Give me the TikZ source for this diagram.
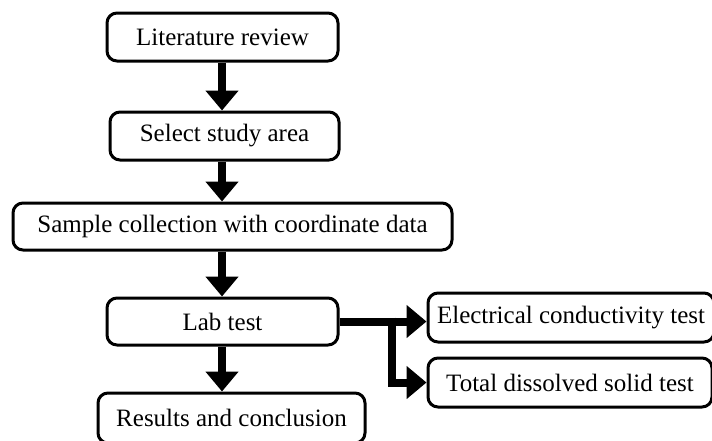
\documentclass[tikz,border=0pt]{standalone}
\usepackage{fontspec}
\setmainfont{Liberation Serif}
\usetikzlibrary{arrows.meta, positioning, calc}

\tikzset{
  stage/.style={draw, line width=3pt, rounded corners=10pt, inner sep=0pt,
    minimum height=48pt, font=\fontsize{25}{30}\selectfont},
  flow/.style={line width=8pt, -{Triangle[width=32pt,length=20pt]}}
}

\begin{document}
\begin{tikzpicture}[x=1pt, y=-1pt]
\useasboundingbox (0,0) rectangle (712,440);

% Main steps
\node[stage, minimum width=231pt] (lit) at (222.5,37) {Literature review};
\node[stage, minimum width=229pt] (sel) at (224.5,136) {Select study area};
\node[stage, minimum width=439pt, minimum height=47pt] (samp) at (232.5,226.5) {Sample collection with coordinate data};
\node[stage, minimum width=231pt, minimum height=47pt] (lab) at (222.5,321.5) {Lab test};
\node[stage, minimum width=267pt, minimum height=50pt] (res) at (231.5,418) {Results and conclusion};

% Lab tests
\node[stage, minimum width=286pt, minimum height=49pt] (elec) at (571,317.5) {Electrical conductivity test};
\node[stage, minimum width=284pt, minimum height=49pt] (tds) at (570,382.5) {Total dissolved solid test};

% Connections
\draw[flow] (lit.south -| 222,0) -- (sel.north -| 222,0);
\draw[flow] (sel.south -| 222,0) -- (samp.north -| 222,0);
\draw[flow] (samp.south -| 222,0) -- (lab.north -| 222,0);
\draw[flow] (lab.south -| 222,0) -- (res.north -| 222,0);
\draw[flow] (lab.east) -- (lab.east -| elec.west);
\coordinate (split) at ($(lab.east)+(52,0)$);
\draw[flow] ($(split)+(0,-4)$) |- (tds.west);
\end{tikzpicture}
\end{document}
